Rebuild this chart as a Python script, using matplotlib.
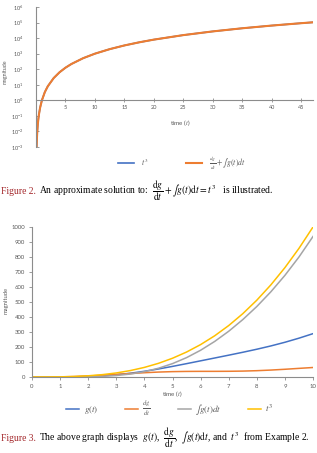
import matplotlib
matplotlib.use("Agg")
import matplotlib.pyplot as plt
from matplotlib.ticker import FixedLocator, LogLocator, NullLocator

W, H = 317, 453

# Figure 2: t^3 and the approximate solution, log scale
t_long = [0.1, 0.15, 0.2, 0.3, 0.4, 0.5, 0.7, 1.0, 1.5, 2, 3, 4, 5, 6, 8, 10,
          12.5, 15, 17.5, 20, 25, 30, 35, 40, 45, 47]
cube_long = [0.001, 0.0034, 0.008, 0.027, 0.064, 0.125, 0.343, 1.0, 3.4, 8, 27, 64,
             125, 216, 512, 1000, 1950, 3380, 5360, 8000, 15600, 27000, 42900,
             64000, 91100, 103800]
approx_long = [0.001, 0.0034, 0.008, 0.027, 0.064, 0.125, 0.343, 1.0, 3.4, 8, 27, 64,
               125, 216, 512, 1000, 1950, 3380, 5360, 8000, 15600, 27000, 42900,
               64000, 91100, 103800]
log_xticks = [5, 10, 15, 20, 25, 30, 35, 40, 45]

# Figure 3: g(t), dg/dt, integral of g and t^3 on 0..10
t_short = [0, 0.5, 1, 1.5, 2, 2.5, 3, 3.5, 4, 4.5, 5, 5.5, 6, 6.5, 7, 7.5, 8,
           8.5, 9, 9.5, 10]
g_vals = [0, 0.02, 0.24, 1.17, 3.5, 7.9, 15.1, 25.1, 38.1, 53.5, 70.7, 89.0,
          107.8, 126.6, 145.5, 164.8, 185.1, 207.1, 231.5, 258.8, 289.0]
dg_vals = [0, 0.12, 0.95, 3.0, 6.5, 11.4, 17.2, 23.1, 28.5, 32.9, 35.8, 37.2,
           37.7, 37.7, 38.1, 39.4, 42.1, 46.2, 51.5, 57.5, 63.3]
int_g_vals = [0, 0.0, 0.05, 0.36, 1.5, 4.2, 9.8, 19.8, 35.5, 58.3, 89.3, 129.1,
              178.3, 236.9, 304.9, 382.5, 469.9, 567.9, 677.5, 799.9, 936.7]
cube_vals = [0, 0.125, 1, 3.4, 8, 15.6, 27, 42.9, 64, 91.1, 125, 166.4, 216,
             274.6, 343, 421.9, 512, 614.1, 729, 857.4, 1000]
lin_xticks = list(range(0, 11))
lin_yticks = list(range(0, 1001, 100))

BLUE = "#4472C4"
ORANGE = "#ED7D31"
GRAY = "#A5A5A5"
YELLOW = "#FFC000"
AXIS = "#8c8c8c"
TEXT = "#595959"
RED = "#a3262a"

plt.rcParams['font.family'] = ['Lato', 'DejaVu Sans']
plt.rcParams['mathtext.fontset'] = 'stix'


def box(left, top, right, bottom):
    return [left / W, 1 - bottom / H, (right - left) / W, (bottom - top) / H]


def fy(py):
    return 1 - py / H


def style_axes(ax, size):
    for side in ('top', 'right'):
        ax.spines[side].set_visible(False)
    for side in ('left', 'bottom'):
        ax.spines[side].set_color(AXIS)
        ax.spines[side].set_linewidth(0.8)
    ax.tick_params(colors=AXIS, labelcolor=TEXT, labelsize=size, width=0.6, length=2)


fig = plt.figure(figsize=(W / 100, H / 100), dpi=100)

# ---- top chart (log scale)
ax1 = fig.add_axes(box(36, 7, 313, 147))
ax1.plot(t_long, cube_long, color=BLUE, lw=1.2, label=r"$t^3$")
ax1.plot(t_long, approx_long, color=ORANGE, lw=1.5,
         label=r"$\frac{dg}{dt}+\int g(t)dt$")
ax1.set_yscale('log')
ax1.set_xlim(0, 47)
ax1.set_ylim(1e-3, 1e6)
style_axes(ax1, 4)
ax1.spines['bottom'].set_position(('data', 1))
ax1.xaxis.set_major_locator(FixedLocator(log_xticks))
ax1.yaxis.set_major_locator(LogLocator(base=10, numticks=20))
ax1.yaxis.set_minor_locator(NullLocator())
ax1.tick_params(axis='x', direction='inout', length=3, pad=2)
ax1.tick_params(axis='y', direction='in', pad=9)
fig.text(5 / W, fy(72), "magnitude", rotation=90, ha='center', va='center',
         color=TEXT, fontsize=3.8)
fig.text(180 / W, fy(123), "time ($t$)", ha='center', va='center',
         color=TEXT, fontsize=4.5)
ax1.legend(loc='center', bbox_to_anchor=(182 / W, fy(163)),
           bbox_transform=fig.transFigure, ncol=2, frameon=False, fontsize=5.6,
           handlelength=2.05, handletextpad=0.9, columnspacing=4.75, labelcolor=TEXT)

# ---- bottom chart (linear scale)
ax2 = fig.add_axes(box(32, 227, 313, 377))
ax2.plot(t_short, g_vals, color=BLUE, lw=1.1, label=r"$g(t)$")
ax2.plot(t_short, dg_vals, color=ORANGE, lw=1.1, label=r"$\frac{dg}{dt}$")
ax2.plot(t_short, int_g_vals, color=GRAY, lw=1.1, label=r"$\int g(t)dt$")
ax2.plot(t_short, cube_vals, color=YELLOW, lw=1.1, label=r"$t^3$")
ax2.set_xlim(0, 10)
ax2.set_ylim(0, 1000)
style_axes(ax2, 4.3)
ax2.xaxis.set_major_locator(FixedLocator(lin_xticks))
ax2.yaxis.set_major_locator(FixedLocator(lin_yticks))
ax2.tick_params(axis='x', pad=3)
ax2.tick_params(axis='y', pad=3)
fig.text(6 / W, fy(300), "magnitude", rotation=90, ha='center', va='center',
         color=TEXT, fontsize=4.2)
fig.text(172 / W, fy(394), "time ($t$)", ha='center', va='center',
         color=TEXT, fontsize=4.5)
ax2.legend(loc='center', bbox_to_anchor=(170 / W, fy(409)),
           bbox_transform=fig.transFigure, ncol=4, frameon=False, fontsize=6.5,
           handlelength=1.45, handletextpad=0.45, columnspacing=3, labelcolor=TEXT)

# ---- captions
cap = fig.add_axes([0, 0, 1, 1])
cap.axis('off')
cap.patch.set_visible(False)


def caption(y_px, head, body):
    y = fy(y_px)
    h = fig.text(1 / W, y, head, color=RED, fontsize=6.9, va='baseline',
                 family='Liberation Serif')
    cap.annotate(body, xy=(1, y), xycoords=(h, 'figure fraction'),
                 xytext=(2.5, 0), textcoords='offset points', va='baseline',
                 ha='left', fontsize=6.9, family='Liberation Serif', color='black')


caption(194, "Figure 2.",
        r"An approximate solution to:  $\dfrac{\mathrm{d}g}{\mathrm{d}t}+\int g\left(t\right)\mathrm{d}t=t^3$   is illustrated.")
caption(441, "Figure 3.",
        r"The above graph displays  $g\left(t\right)$,  $\dfrac{\mathrm{d}g}{\mathrm{d}t}$,  $\int g\left(t\right)\mathrm{d}t$, and  $t^3$  from Example 2.")

fig.savefig("out.png", dpi=100)
